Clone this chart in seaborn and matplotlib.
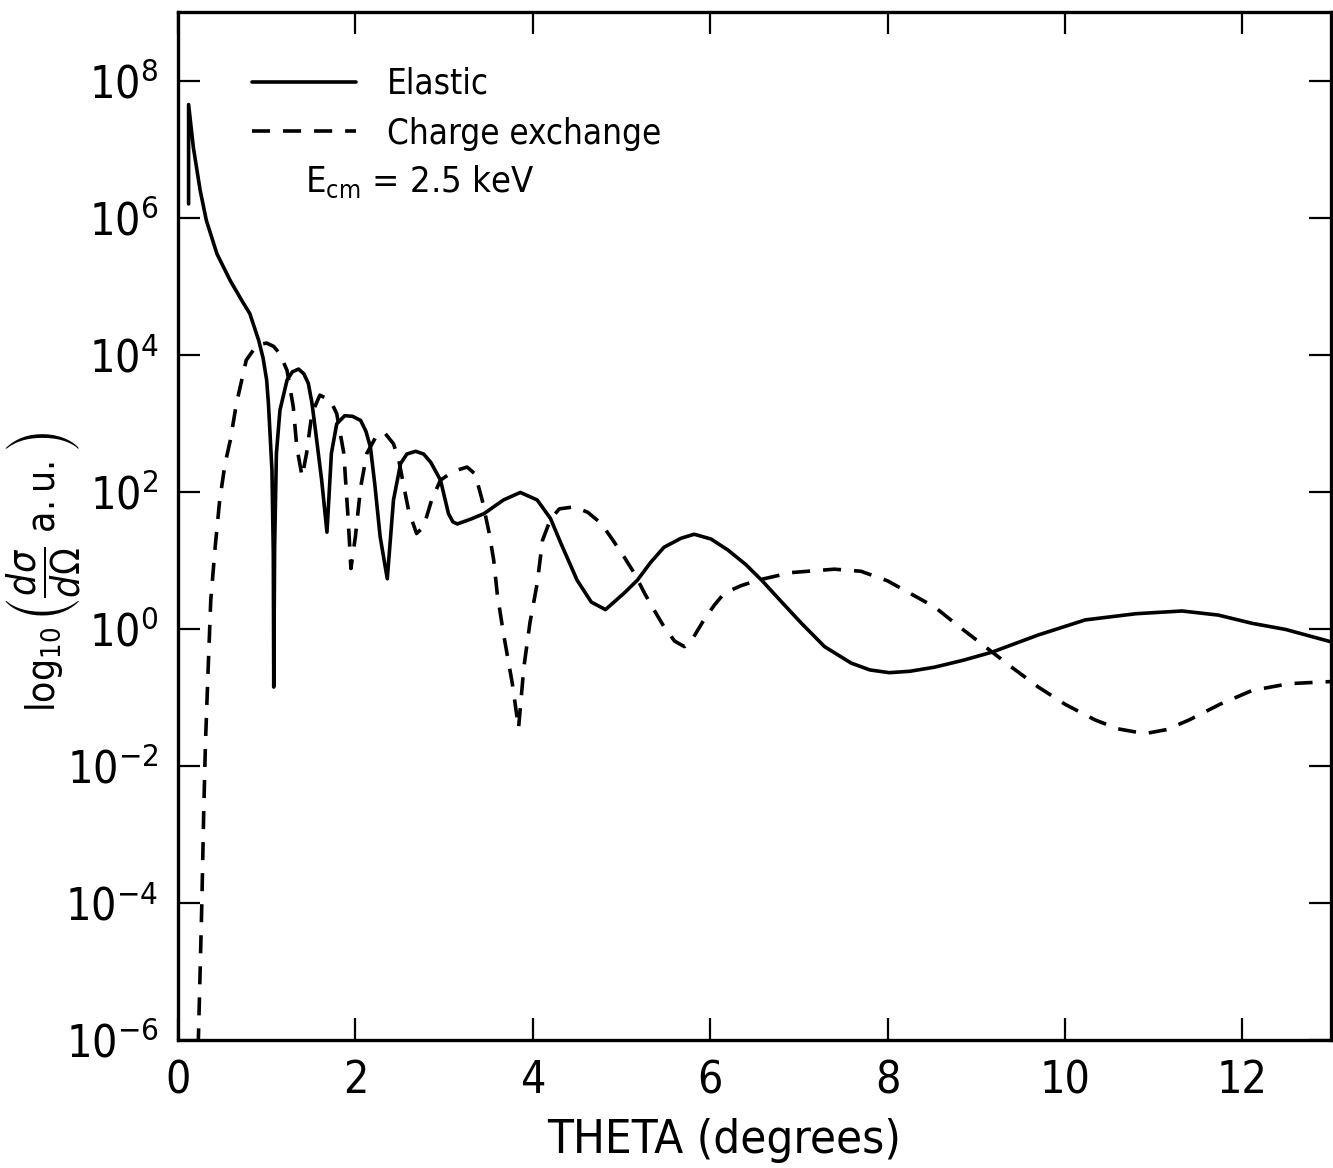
import numpy as np
import pandas as pd
import matplotlib
matplotlib.use("Agg")
import matplotlib.pyplot as plt
import matplotlib.ticker as mticker
import seaborn as sns

# --- data (theta in degrees, log10 of cross section) ---
elastic_theta = [0.12, 0.12, 0.173, 0.25, 0.32, 0.44, 0.59, 0.72, 0.81, 0.91, 0.96, 1.00,
                 1.02, 1.06, 1.075, 1.08, 1.09, 1.11, 1.15, 1.23, 1.29, 1.36, 1.42,
                 1.47, 1.51, 1.55, 1.62, 1.68, 1.73, 1.79, 1.88, 1.97, 2.06, 2.12,
                 2.17, 2.22, 2.28, 2.36, 2.43, 2.51, 2.58, 2.68, 2.77, 2.85, 2.96,
                 3.05, 3.10, 3.15, 3.30, 3.45, 3.67, 3.86, 4.05, 4.20, 4.32, 4.50,
                 4.66, 4.82, 5.03, 5.18, 5.33, 5.48, 5.67, 5.82, 6.01, 6.20, 6.40,
                 6.58, 6.80, 7.03, 7.29, 7.59, 7.80, 8.02, 8.25, 8.53, 8.85, 9.18,
                 9.45, 9.70, 10.23, 10.80, 11.32, 11.73, 12.11, 12.49, 13.0]
elastic_log = [6.2, 7.65, 7.03, 6.40, 5.96, 5.47, 5.08, 4.79, 4.60, 4.21, 3.95, 3.63,
               3.29, 2.31, 1.10, -0.85, 1.20, 2.56, 3.19, 3.63, 3.75, 3.79, 3.72,
               3.58, 3.30, 2.90, 2.17, 1.41, 2.56, 2.99, 3.11, 3.10, 3.04, 2.88,
               2.65, 2.10, 1.34, 0.73, 1.88, 2.41, 2.55, 2.59, 2.55, 2.43, 2.17,
               1.68, 1.56, 1.53, 1.60, 1.68, 1.88, 1.99, 1.88, 1.61, 1.24, 0.71,
               0.39, 0.28, 0.52, 0.71, 0.97, 1.19, 1.32, 1.38, 1.31, 1.15, 0.94,
               0.71, 0.40, 0.08, -0.26, -0.50, -0.60, -0.64, -0.62, -0.56, -0.46, -0.34,
               -0.21, -0.09, 0.13, 0.22, 0.26, 0.20, 0.08, -0.01, -0.19]

cx_theta = [0.21, 0.23, 0.25, 0.27, 0.29, 0.31, 0.34, 0.37, 0.42, 0.47, 0.53, 0.59,
            0.66, 0.77, 0.89, 1.00, 1.08, 1.15, 1.23, 1.30, 1.34, 1.40, 1.45,
            1.51, 1.60, 1.72, 1.79, 1.87, 1.92, 1.95, 2.00, 2.06, 2.13, 2.24,
            2.33, 2.43, 2.49, 2.54, 2.60, 2.69, 2.77, 2.86, 2.96, 3.11, 3.26,
            3.35, 3.43, 3.51, 3.56, 3.60, 3.67, 3.77, 3.84, 3.90, 3.97, 4.05,
            4.11, 4.20, 4.30, 4.47, 4.62, 4.77, 4.90, 5.03, 5.15, 5.26, 5.37,
            5.48, 5.60, 5.71, 5.80, 5.93, 6.05, 6.16, 6.35, 6.54, 6.91, 7.40,
            7.70, 8.00, 8.25, 8.53, 8.80, 9.10, 9.40, 9.70, 10.00, 10.34, 10.60,
            10.90, 11.15, 11.40, 11.75, 12.11, 12.53, 13.0]
cx_log = [-7.0, -6.0, -5.0, -3.96, -2.7, -1.67, -0.6, 0.42, 1.2, 1.87, 2.4, 2.75,
          3.29, 3.92, 4.14, 4.17, 4.12, 4.01, 3.77, 3.24, 2.65, 2.22, 2.56,
          3.14, 3.41, 3.33, 3.14, 2.56, 1.58, 0.88, 1.34, 2.07, 2.56, 2.82,
          2.86, 2.70, 2.46, 2.12, 1.73, 1.39, 1.49, 1.88, 2.17, 2.30, 2.36,
          2.26, 1.88, 1.39, 1.00, 0.51, -0.07, -0.80, -1.45, -0.56, 0.10, 0.66,
          1.29, 1.60, 1.75, 1.78, 1.70, 1.54, 1.30, 1.05, 0.80, 0.52, 0.27,
          0.03, -0.18, -0.26, -0.15, 0.13, 0.35, 0.52, 0.63, 0.71, 0.82, 0.87,
          0.84, 0.70, 0.52, 0.32, 0.04, -0.26, -0.56, -0.85, -1.10, -1.33, -1.46,
          -1.53, -1.47, -1.33, -1.10, -0.90, -0.80, -0.77]

y_tick_exponents = [-6, -4, -2, 0, 2, 4, 6, 8]
x_ticks = [0, 2, 4, 6, 8, 10, 12]

elastic = pd.DataFrame({'theta': elastic_theta, 'xs': 10.0 ** np.array(elastic_log)})
cx = pd.DataFrame({'theta': cx_theta, 'xs': 10.0 ** np.array(cx_log)})

sns.set_style("ticks")
plt.rcParams['font.family'] = ['DejaVu Sans']
plt.rcParams['font.stretch'] = 'condensed'
for k in ['text.color', 'axes.labelcolor', 'xtick.color', 'ytick.color', 'axes.edgecolor']:
    plt.rcParams[k] = 'black'

fig = plt.figure(figsize=(13.33, 11.68), dpi=100)
ax = fig.add_axes([0.1335, 0.1096, 0.865, 0.8801])

lw = 2.6
sns.lineplot(data=elastic, x='theta', y='xs', estimator=None, sort=False,
             color='black', linewidth=lw, label='Elastic', ax=ax)
sns.lineplot(data=cx, x='theta', y='xs', estimator=None, sort=False,
             color='black', linewidth=lw, label='Charge exchange', ax=ax)
ax.lines[1].set_dashes((5, 3.6))

ax.set_yscale('log')
ax.set_xlim(0, 13)
ax.set_ylim(1e-6, 1e9)
ax.set_xticks(x_ticks)
ax.set_yticks([10.0 ** e for e in y_tick_exponents])
ax.set_yticklabels([r'$10^{%d}$' % e for e in y_tick_exponents])
ax.yaxis.set_minor_locator(mticker.NullLocator())

ax.tick_params(which='major', direction='in', length=16, width=1.6,
               top=True, right=True, labelsize=32, pad=14)
for s in ax.spines.values():
    s.set_linewidth(2.4)

ax.set_xlabel('THETA (degrees)', fontsize=34)
ax.xaxis.set_label_coords(0.474, -0.076)
ax.set_ylabel(r'$\log_{10}\left(\dfrac{d\sigma}{d\Omega}\ \mathrm{a.u.}\right)$', fontsize=28)
ax.yaxis.set_label_coords(-0.083, 0.455)

leg = ax.legend(loc='upper left', bbox_to_anchor=(0.037, 0.977), frameon=False,
                fontsize=25, handlelength=3.0, handletextpad=0.9, labelspacing=0.45)
ax.text(0.11, 0.835, r'E$_{\mathrm{cm}}$ = 2.5 keV', transform=ax.transAxes,
        fontsize=26, va='center', ha='left')

fig.savefig('out.png', dpi=100)
